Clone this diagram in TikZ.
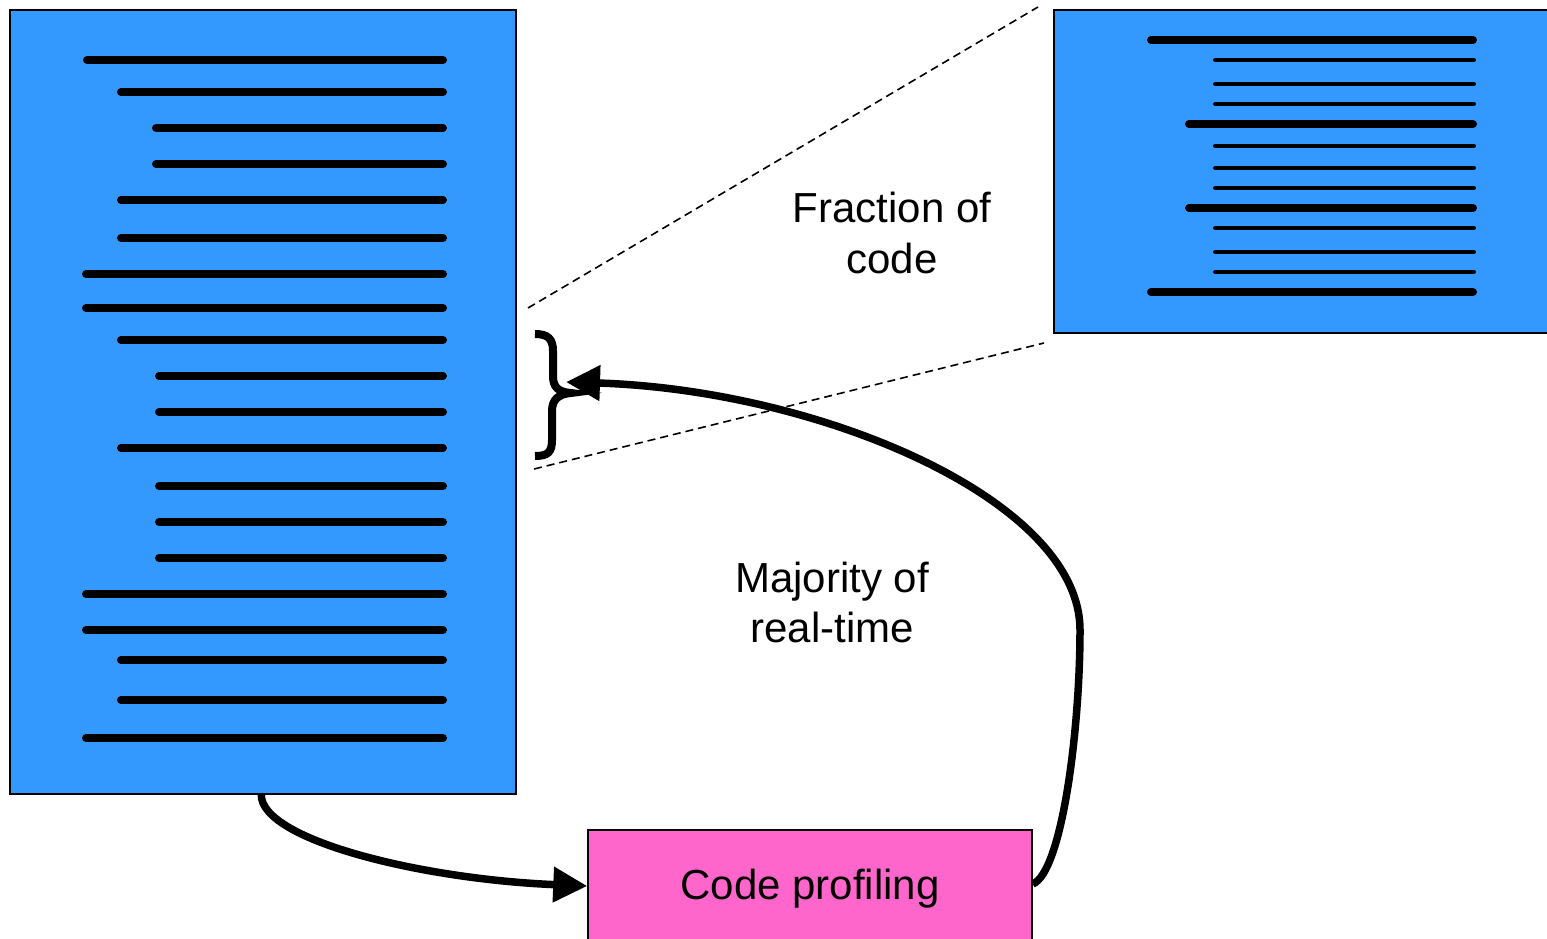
\documentclass[tikz,border=0pt]{standalone}
\usepackage{fontspec}
\setmainfont{Liberation Sans}
\usetikzlibrary{arrows.meta}
\definecolor{codeblue}{HTML}{3399FF}
\definecolor{profpink}{HTML}{FF66CC}
\begin{document}
\begin{tikzpicture}[x=1pt,y=-1pt,
  panel/.style={draw=black, line width=1.5pt, fill=codeblue, inner sep=0pt},
  codeline/.style={line width=8pt, line cap=round},
  thinline/.style={line width=4.5pt, line cap=round},
  label/.style={font=\fontsize{42}{48}\selectfont, inner sep=0pt, anchor=base},
  flow/.style={line width=7.5pt, -{Triangle[length=34pt,width=34pt]}},
  guide/.style={line width=1.6pt, dash pattern=on 8pt off 5pt}]
\useasboundingbox (0,0) rectangle (1547,938);
\clip (0,0) rectangle (1547,938);

% source listing
\node[panel, minimum width=506pt, minimum height=784pt] (src) at (263,402) {};
\foreach \y/\x in {60/83, 92/117, 128/152, 164/152, 200/117, 238/117, 274/82,
                   308/82, 340/117, 376/155, 412/155, 448/117, 486/155, 522/155,
                   558/155, 594/82, 630/82, 660/117, 700/117, 738/82}
  \draw[codeline] (\x+4,\y) -- (443,\y);

% enlarged hot section
\node[panel, minimum width=506pt, minimum height=323pt] (detail) at (1307,171.5) {};
\foreach \y/\x in {40/1147, 124/1185, 208/1185, 292/1147}
  \draw[codeline] (\x+4,\y) -- (1473,\y);
\foreach \y in {60, 84, 104, 146, 168, 188, 228, 252, 272}
  \draw[thinline] (1215.25,\y) -- (1473.75,\y);

% profiler
\node[draw=black, line width=1.5pt, fill=profpink, minimum width=444pt,
      minimum height=120pt, text height=28pt, text depth=10pt,
      font=\fontsize{42}{48}\selectfont] (prof) at (810,890) {Code profiling};

% zoom guides
\coordinate (gA) at (528,308);
\coordinate (gB) at (1038,7);
\coordinate (gC) at (534,469);
\coordinate (gD) at (1044,343);
\draw[guide] (gA) -- (gB);
\draw[guide] (gC) -- (gD);

% brace marking the hot section
\draw[line width=8pt] (535,334) .. controls (548,334) and (553,339) .. (553,351)
  -- (553,376) .. controls (553,387) and (558,392) .. (571,393)
  .. controls (558,394) and (552,400) .. (552,411)
  -- (552,440) .. controls (552,452) and (548,456) .. (535,456);
\coordinate (bracetip) at (566,382);

% connectors
\draw[flow] ([xshift=252pt]src.south west) .. controls +(0,45) and (420,879)
  .. ([yshift=4pt]prof.west);
\draw[flow] ([yshift=6pt]prof.east) .. controls (1062,872) and (1080,730) .. (1080,630)
  .. controls (1080,500) and (820,390) .. (bracetip);

% labels
\node[label] (frac1) at (892,222) {Fraction of};
\node[label] (frac2) at (892,273) {code};
\node[label] (maj1) at (832,592) {Majority of};
\node[label] (maj2) at (832,642) {real-time};
\end{tikzpicture}
\end{document}
